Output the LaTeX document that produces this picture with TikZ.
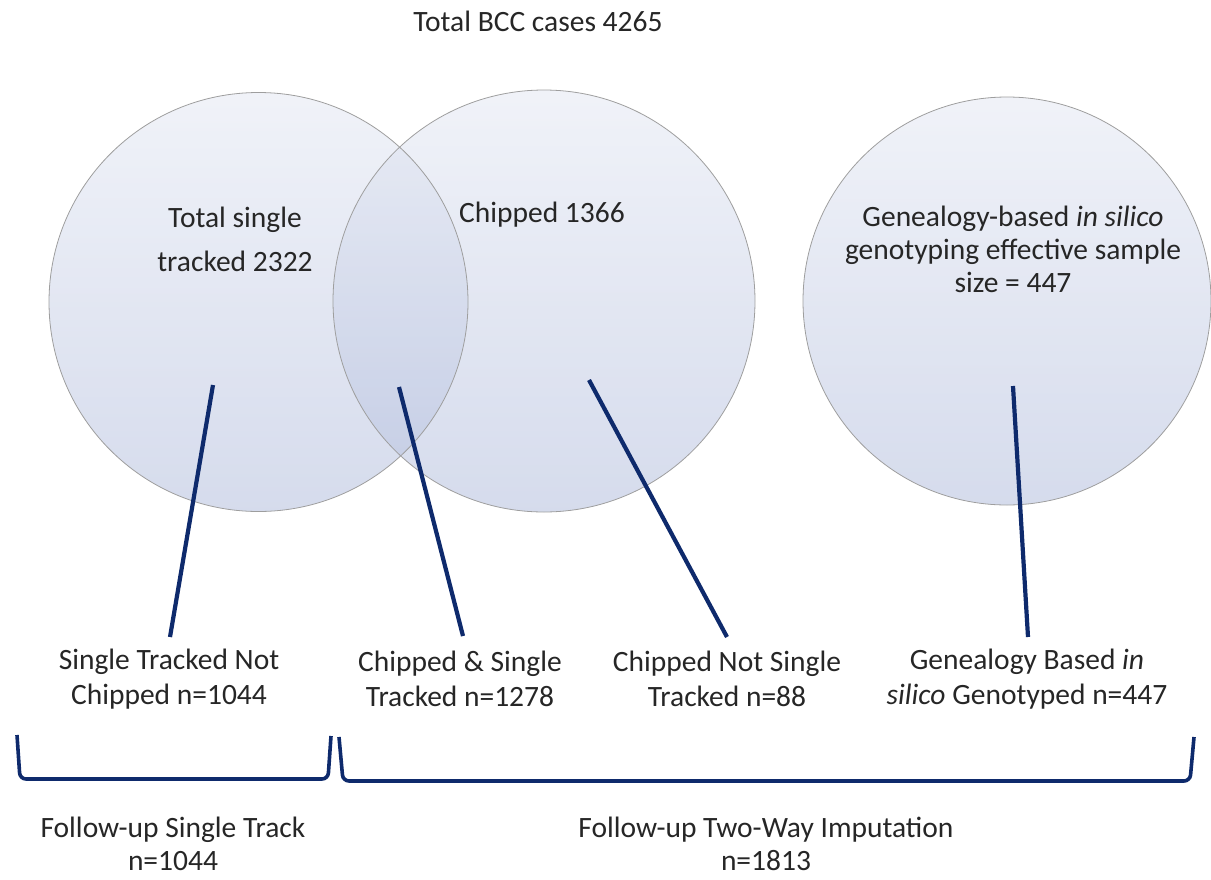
\documentclass[tikz,border=0pt]{standalone}
\usepackage{fontspec}
\setmainfont{Carlito}
\begin{document}
\begin{tikzpicture}[x=1pt,y=-1pt,
  txt/.style={text=black!85, font=\fontsize{29.5}{35}\selectfont, align=center, inner sep=0pt},
  follow/.style={text=black!85, font=\fontsize{29.5}{33}\selectfont, align=center, inner sep=0pt},
  circfill/.style={top color=vtop, bottom color=vbot, fill opacity=0.55, draw=none},
  circedge/.style={draw=black!38, line width=0.8pt},
  link/.style={draw=navy, line width=4.2pt},
  bracket/.style={draw=navy, line width=3.6pt, rounded corners=6pt}]
\definecolor{vtop}{HTML}{E4E8F3}
\definecolor{vbot}{HTML}{B3BEDD}
\definecolor{navy}{HTML}{0E2A6C}
\path[use as bounding box] (0,0) rectangle (1211,879);
% circles
\shade[circfill] (258.5,302) circle (209.5);
\shade[circfill] (544,301) circle (211);
\shade[circfill] (1007,301) circle (204);
\draw[circedge] (258.5,302) circle (209.5);
\draw[circedge] (544,301) circle (211);
\draw[circedge] (1007,301) circle (204);
% labels
\node[txt] (total) at (538,21) {Total BCC cases 4265};
\node[txt, font=\fontsize{29.5}{44}\selectfont] (single) at (235,239) {Total single\\tracked 2322};
\node[txt] (chipped) at (542,215) {Chipped 1366};
\node[txt, font=\fontsize{29.5}{33}\selectfont] (gen) at (1013,249) {Genealogy-based \textit{in silico}\\genotyping effective sample\\size = 447};
\node[txt] (l1) at (169,679) {Single Tracked Not\\Chipped n=1044};
\node[txt] (l2) at (460,679) {Chipped \& Single\\Tracked n=1278};
\node[txt] (l3) at (727,679) {Chipped Not Single\\Tracked n=88};
\node[txt] (l4) at (1027,679) {Genealogy Based \textit{in}\\\textit{silico} Genotyped n=447};
\node[follow] (f1) at (173,844) {Follow-up Single Track\\n=1044};
\node[follow] (f2) at (766,844) {Follow-up Two-Way Imputation\\n=1813};
% connector start points
\coordinate (p1) at (213,385);
\coordinate (p2) at (399,387);
\coordinate (p3) at (589,380);
\coordinate (p4) at (1013,386);
\coordinate (q1) at (170,637);
\coordinate (q2) at (463,636);
\coordinate (q3) at (727,637);
\coordinate (q4) at (1028,637);
\draw[link] (p1) -- (q1);
\draw[link] (p2) -- (q2);
\draw[link] (p3) -- (q3);
\draw[link] (p4) -- (q4);
% brackets
\coordinate (b1a) at (17,735);
\coordinate (b1b) at (20,779);
\coordinate (b1c) at (328,779);
\coordinate (b1d) at (331,736);
\coordinate (b2a) at (339,737);
\coordinate (b2b) at (343,781);
\coordinate (b2c) at (1190,781);
\coordinate (b2d) at (1194,737);
\draw[bracket] (b1a) -- (b1b) -- (b1c) -- (b1d);
\draw[bracket] (b2a) -- (b2b) -- (b2c) -- (b2d);
\end{tikzpicture}
\end{document}
